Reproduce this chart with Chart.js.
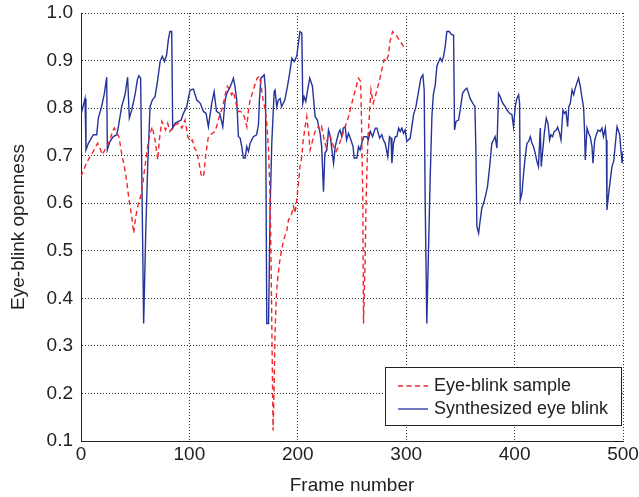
<!DOCTYPE html>
<html>
<head>
<meta charset="utf-8">
<script src="https://cdn.jsdelivr.net/npm/chart.js@4/dist/chart.umd.min.js"></script>
<style>
  html, body { margin: 0; padding: 0; background: #fff; }
  #wrap { width: 639px; height: 497px; }
</style>
</head>
<body>
<div id="wrap"><canvas id="myChart" width="639" height="497"></canvas></div>
<script>
// eye-blink sample (red dashed), frame numbers and openness
const sampleFrames = [0, 2, 5, 8.3, 11.4, 13.5, 15.4, 17.5, 19.7, 22, 24.6, 26.8, 29, 30.8, 33, 35, 37.5, 40, 42, 44.3,
  46.8, 48.6, 50.5, 53, 55, 57, 59, 61.5, 63.7, 65.8, 68.3, 70.8, 72.3, 74.5, 76, 78, 80, 82, 84.3, 86.8,
  90, 93, 96, 98.5, 100.6, 102.8, 104.6, 106.8, 109, 110.8, 113, 115, 117.5, 120, 123.7, 126, 128, 130.8, 133, 135,
  137, 139, 140.6, 143, 145, 147, 149.8, 151.4, 153, 154.5, 156, 158, 160, 162.5, 164.6, 166, 168, 170, 171.4, 173,
  174.5, 175.4, 176.3, 177.2, 178.2, 179, 180, 181, 183, 185, 187, 190, 191.4, 193, 194.5, 196, 197.5, 199, 200.6, 202,
  203.7, 205, 206.8, 208.3, 210, 211.4, 213, 214.5, 216, 217.5, 219, 220.6, 222, 224, 226, 228, 230, 233, 235.4, 237.5,
  240.6, 243.7, 246.8, 249, 251.4, 254, 256, 258, 259, 260, 260.6, 262, 263, 264.6, 266.5, 267.5, 269.5, 271.5, 273, 275.5,
  277.5, 279.7, 281.5, 283.7, 285, 287.4, 289, 291.4, 294.5, 297.5, 299];
const sampleValues = [0.656, 0.667, 0.684, 0.698, 0.709, 0.719, 0.726, 0.716, 0.702, 0.712, 0.723, 0.733, 0.751, 0.758, 0.747, 0.74, 0.705, 0.677, 0.649, 0.607,
  0.572, 0.537, 0.572, 0.6, 0.614, 0.642, 0.677, 0.719, 0.747, 0.761, 0.733, 0.691, 0.733, 0.772, 0.765, 0.754, 0.768, 0.751, 0.758, 0.765,
  0.768, 0.758, 0.775, 0.74, 0.73, 0.733, 0.716, 0.709, 0.684, 0.66, 0.655, 0.7, 0.74, 0.745, 0.751, 0.768, 0.786, 0.803, 0.828, 0.846,
  0.838, 0.828, 0.835, 0.81, 0.793, 0.793, 0.789, 0.775, 0.761, 0.796, 0.817, 0.831, 0.846, 0.863, 0.867, 0.849, 0.817, 0.796, 0.768, 0.712,
  0.607, 0.466, 0.291, 0.122, 0.221, 0.326, 0.396, 0.431, 0.473, 0.502, 0.523, 0.544, 0.565, 0.572, 0.579, 0.593, 0.579, 0.607, 0.642, 0.677,
  0.698, 0.733, 0.761, 0.782, 0.747, 0.712, 0.726, 0.74, 0.751, 0.758, 0.761, 0.754, 0.761, 0.737, 0.719, 0.744, 0.74, 0.719, 0.709, 0.719,
  0.74, 0.761, 0.782, 0.803, 0.824, 0.846, 0.863, 0.856, 0.747, 0.607, 0.347, 0.466, 0.607, 0.733, 0.803, 0.838, 0.81, 0.824, 0.838, 0.86,
  0.881, 0.902, 0.898, 0.912, 0.94, 0.961, 0.958, 0.951, 0.94, 0.93, 0.926];

// synthesized eye blink (blue solid)
const synthFrames = [0, 3.7, 4.6, 6.8, 11.4, 14.5, 16, 19, 21.5, 23.7, 24.3, 26.8, 29.8, 33, 34.5, 37.5, 40.6, 43, 44.6, 46.8,
  50, 52, 53.5, 55, 56, 57.8, 59.7, 61.5, 63.7, 65.8, 68.3, 70.8, 73, 75, 77, 79, 80.6, 82, 83.7, 84.6,
  86.8, 90, 92.3, 94.5, 97.5, 100.6, 103.7, 106.8, 110, 113, 115.4, 117.5, 120.6, 122.8, 123.7, 125, 128, 130.8, 133, 134.5,
  137, 139, 140.6, 142, 143.7, 145.2, 146.8, 148.3, 149.8, 151.4, 152.9, 154.5, 156, 159, 162, 163.7, 164.6, 166, 169, 170.2,
  171.4, 173, 174.5, 176, 178.2, 179, 180.6, 182, 183.7, 185, 188, 190.5, 193, 194.5, 196.6, 199, 200.6, 202, 203.7, 204.6,
  205.8, 207.4, 209, 211, 213.5, 216, 218, 220.6, 222, 223.7, 225, 226.8, 228.3, 230, 233, 234.5, 237.5, 239, 240.6, 242,
  243.7, 245, 246.8, 249, 251, 252, 254.5, 256, 257.5, 259, 261, 263.7, 265, 266.8, 269, 271.5, 273, 275.5, 277.5, 279,
  280.6, 283, 284.6, 286, 286.8, 288.3, 290, 291.4, 293, 294.5, 296, 297.5, 299, 300.6, 303.7, 305, 306.8, 309, 311.4, 313.5,
  315.4, 316.6, 317.5, 319, 320.6, 322, 323.7, 325, 326.8, 328.3, 330, 331.4, 333, 334.5, 336, 337.5, 339.7, 342, 343.7, 344.6,
  346, 348.3, 349.8, 352, 354, 356, 357.5, 359, 361.5, 363.4, 364.3, 365.2, 366.8, 368.3, 369.8, 371.4, 373, 375, 377, 379,
  380.6, 382, 383.7, 385.2, 386.8, 388.3, 390, 391.4, 393, 395.4, 397.5, 399, 400.6, 402, 403.7, 404.6, 405.2, 406.8, 408.3, 409.8,
  411.4, 413, 414.5, 416, 417.5, 419, 420.6, 422, 423.7, 424.6, 426, 427.4, 429.2, 430.8, 432.3, 433.5, 435, 436.6, 438.5, 439.7,
  441.5, 442.8, 444.6, 446, 447.4, 448.9, 450, 451.4, 453, 454.5, 456, 457.5, 459, 460.6, 462, 463.7, 464.6, 465.2, 466.8, 468.3,
  469.8, 471.4, 472.3, 473.9, 475.4, 477, 479, 480.6, 482, 483.7, 484.6, 485.2, 486.8, 488.3, 489.8, 491.4, 493, 494.5, 496, 497,
  498.3, 499.2, 500];
const synthValues = [0.786, 0.82, 0.712, 0.726, 0.744, 0.744, 0.779, 0.803, 0.83, 0.865, 0.712, 0.73, 0.74, 0.744, 0.761, 0.803, 0.828, 0.865, 0.779, 0.796,
  0.83, 0.86, 0.868, 0.863, 0.677, 0.347, 0.537, 0.677, 0.803, 0.817, 0.824, 0.86, 0.898, 0.909, 0.898, 0.912, 0.944, 0.961, 0.961, 0.758,
  0.768, 0.772, 0.775, 0.789, 0.803, 0.838, 0.84, 0.817, 0.81, 0.793, 0.789, 0.761, 0.81, 0.835, 0.817, 0.793, 0.789, 0.761, 0.817, 0.831,
  0.842, 0.853, 0.863, 0.846, 0.817, 0.74, 0.737, 0.719, 0.695, 0.695, 0.719, 0.709, 0.726, 0.74, 0.744, 0.765, 0.817, 0.863, 0.87, 0.838,
  0.347, 0.347, 0.593, 0.726, 0.835, 0.838, 0.803, 0.817, 0.82, 0.803, 0.817, 0.846, 0.881, 0.905, 0.898, 0.909, 0.937, 0.961, 0.958, 0.81,
  0.824, 0.814, 0.838, 0.863, 0.846, 0.782, 0.775, 0.747, 0.719, 0.624, 0.705, 0.712, 0.754, 0.74, 0.684, 0.719, 0.747, 0.754, 0.74, 0.758,
  0.761, 0.733, 0.747, 0.733, 0.719, 0.695, 0.695, 0.719, 0.712, 0.726, 0.74, 0.74, 0.733, 0.751, 0.74, 0.758, 0.758, 0.737, 0.744, 0.733,
  0.726, 0.698, 0.74, 0.737, 0.684, 0.726, 0.74, 0.74, 0.758, 0.751, 0.758, 0.747, 0.754, 0.73, 0.737, 0.758, 0.786, 0.803, 0.835, 0.863,
  0.87, 0.838, 0.607, 0.347, 0.502, 0.642, 0.782, 0.828, 0.849, 0.888, 0.898, 0.905, 0.898, 0.909, 0.93, 0.961, 0.961, 0.954, 0.954, 0.754,
  0.772, 0.775, 0.796, 0.831, 0.838, 0.842, 0.831, 0.82, 0.81, 0.803, 0.712, 0.551, 0.537, 0.565, 0.59, 0.6, 0.614, 0.635, 0.677, 0.726,
  0.733, 0.74, 0.716, 0.831, 0.824, 0.814, 0.807, 0.803, 0.796, 0.789, 0.786, 0.761, 0.803, 0.82, 0.828, 0.81, 0.607, 0.621, 0.663, 0.698,
  0.726, 0.73, 0.74, 0.726, 0.719, 0.705, 0.688, 0.677, 0.758, 0.677, 0.712, 0.747, 0.779, 0.768, 0.733, 0.744, 0.74, 0.751, 0.754, 0.76,
  0.747, 0.733, 0.796, 0.789, 0.793, 0.761, 0.803, 0.81, 0.838, 0.828, 0.842, 0.853, 0.863, 0.846, 0.824, 0.8, 0.747, 0.691, 0.758, 0.747,
  0.74, 0.719, 0.684, 0.733, 0.744, 0.754, 0.751, 0.758, 0.74, 0.758, 0.733, 0.586, 0.621, 0.649, 0.677, 0.688, 0.726, 0.761, 0.751, 0.744,
  0.705, 0.684, 0.709];

const xTicks = [0, 100, 200, 300, 400, 500];
const yTicks = [0.1, 0.2, 0.3, 0.4, 0.5, 0.6, 0.7, 0.8, 0.9, 1.0];

const RED = '#f0262b';
const BLUE = '#25339a';
const FONT = '"Liberation Sans", Arial, Helvetica, sans-serif';

function toPoints(xs, ys) {
  var pts = [];
  for (var i = 0; i < xs.length; i++) pts.push({x: xs[i], y: ys[i]});
  return pts;
}

// legend box drawn inside the plot, bottom right, like matlab
const boxLegend = {
  id: 'boxLegend',
  afterDraw(chart) {
    const c = chart.ctx;
    const a = chart.chartArea;
    const w = 236, h = 58;
    const x0 = a.right - 2 - w;
    const y0 = a.bottom - 16 - h;
    c.save();
    c.fillStyle = '#fff';
    c.fillRect(x0, y0, w, h);
    c.strokeStyle = '#222';
    c.lineWidth = 1;
    c.strokeRect(Math.round(x0) + 0.5, Math.round(y0) + 0.5, w, h);
    c.font = '18px ' + FONT;
    c.textBaseline = 'middle';
    c.fillStyle = '#222';
    chart.data.datasets.forEach(function (ds, i) {
      const ly = y0 + 19 + i * 23;
      c.beginPath();
      c.strokeStyle = ds.borderColor;
      c.lineWidth = 1.3;
      c.setLineDash(ds.borderDash || []);
      c.moveTo(x0 + 13, ly);
      c.lineTo(x0 + 43, ly);
      c.stroke();
      c.setLineDash([]);
      c.fillText(ds.label, x0 + 49, ly);
    });
    c.restore();
  }
};

const ctx = document.getElementById('myChart').getContext('2d');
const chart = new Chart(ctx, {
  type: 'line',
  data: {
    datasets: [
      {
        label: 'Eye-blink sample',
        data: toPoints(sampleFrames, sampleValues),
        borderColor: RED,
        borderWidth: 1.4,
        borderDash: [5, 3.5],
        pointRadius: 0,
        tension: 0,
        fill: false
      },
      {
        label: 'Synthesized eye blink',
        data: toPoints(synthFrames, synthValues),
        borderColor: BLUE,
        borderWidth: 1.4,
        pointRadius: 0,
        tension: 0,
        fill: false
      }
    ]
  },
  options: {
    responsive: false,
    animation: false,
    devicePixelRatio: 1,
    layout: { padding: { top: 13, right: 16, bottom: 0, left: 0 } },
    plugins: { legend: { display: false }, tooltip: { enabled: false } },
    scales: {
      x: {
        type: 'linear',
        min: 0,
        max: 500,
        afterFit(scale) { scale.height = 56; scale.paddingLeft = 0; scale.paddingRight = 0; },
        afterBuildTicks(scale) { scale.ticks = xTicks.map(v => ({value: v})); },
        ticks: { color: '#222', font: { family: FONT, size: 19 }, padding: 2, maxRotation: 0 },
        grid: { color: 'rgba(0,0,0,0.8)', lineWidth: 1, drawTicks: false },
        border: { display: true, color: '#222', width: 1, dash: [1, 2] },
        title: { display: true, text: 'Frame number', color: '#222', font: { family: FONT, size: 19 }, padding: { top: 4, bottom: 0 } }
      },
      y: {
        min: 0.1,
        max: 1.0,
        afterFit(scale) { scale.width = 81; scale.paddingTop = 0; scale.paddingBottom = 0; },
        afterBuildTicks(scale) { scale.ticks = yTicks.map(v => ({value: v})); },
        ticks: { color: '#222', font: { family: FONT, size: 19 }, padding: 8, callback: v => v.toFixed(1) },
        grid: { color: 'rgba(0,0,0,0.8)', lineWidth: 1, drawTicks: false },
        border: { display: true, color: '#222', width: 1, dash: [1, 2] },
        title: { display: true, text: 'Eye-blink openness', color: '#222', font: { family: FONT, size: 19 }, padding: { top: 7, bottom: 0 } }
      }
    }
  },
  plugins: [boxLegend]
});
</script>
</body>
</html>
